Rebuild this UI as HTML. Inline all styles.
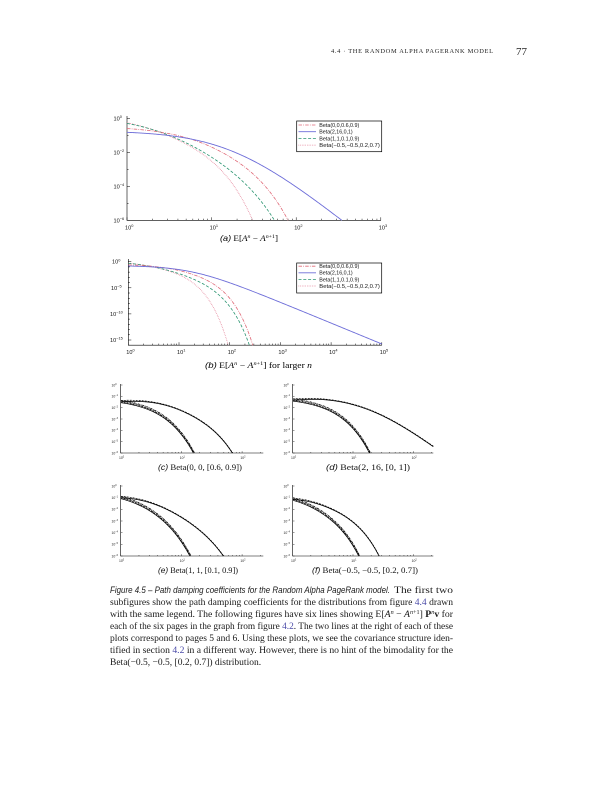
<!DOCTYPE html>
<html><head><meta charset="utf-8">
<style>
html,body{margin:0;padding:0;background:#fff;}
body{width:612px;height:792px;position:relative;overflow:hidden;}
svg{position:absolute;left:0;top:0;}
.t{font-family:"Liberation Sans",sans-serif;}
.s{font-family:"Liberation Serif",serif;}
</style></head><body>
<svg width="612" height="792" viewBox="0 0 612 792">
<!-- header -->
<text class="s" x="331" y="53" font-size="6.4" textLength="162" lengthAdjust="spacing" fill="#222">4.4 · THE RANDOM ALPHA PAGERANK MODEL</text>
<text class="s" x="516" y="55" font-size="11" fill="#222">77</text>

<!-- ===== Plot (a) ===== -->
<g id="ticksA" stroke="#000" stroke-width="0.5" fill="none"></g>
<path d="M127,116V220.3H381" stroke="#000" stroke-width="0.6" fill="none"/>
<g id="curvesA"></g>
<g class="t" font-size="5.6" fill="#111">
<text x="113.5" y="120.3">10<tspan dy="-2.4" font-size="3.9">0</tspan></text>
<text x="113.5" y="154.3">10<tspan dy="-2.4" font-size="3.9">−2</tspan></text>
<text x="113.5" y="188.3">10<tspan dy="-2.4" font-size="3.9">−4</tspan></text>
<text x="113.5" y="222.3">10<tspan dy="-2.4" font-size="3.9">−6</tspan></text>
<text x="125" y="229.5">10<tspan dy="-2.4" font-size="3.9">0</tspan></text>
<text x="209.6" y="229.5">10<tspan dy="-2.4" font-size="3.9">1</tspan></text>
<text x="294.2" y="229.5">10<tspan dy="-2.4" font-size="3.9">2</tspan></text>
<text x="378.8" y="229.5">10<tspan dy="-2.4" font-size="3.9">3</tspan></text>
</g>
<rect x="296.7" y="121" width="85" height="30.7" fill="#fff" stroke="#000" stroke-width="0.7"/>
<g fill="none" stroke-width="0.8">
<path d="M298.5,125H316" stroke="#e06a78" stroke-dasharray="3.5,1.2,0.8,1.2"/>
<path d="M298.5,131.7H316" stroke="#6c6cd8"/>
<path d="M298.5,138.4H316" stroke="#2a9470" stroke-dasharray="3,1.8"/>
<path d="M298.5,145.1H316" stroke="#e0708a" stroke-dasharray="0.7,1"/>
</g>
<g class="t" font-size="5.4" fill="#111">
<text x="319.3" y="126.9" textLength="40" lengthAdjust="spacingAndGlyphs">Beta(0,0,0.6,0.9)</text>
<text x="319.3" y="133.6" textLength="33.4" lengthAdjust="spacingAndGlyphs">Beta(2,16,0,1)</text>
<text x="319.3" y="140.3" textLength="40" lengthAdjust="spacingAndGlyphs">Beta(1,1,0.1,0.9)</text>
<text x="319.3" y="147" textLength="60.5" lengthAdjust="spacingAndGlyphs">Beta(−0.5,−0.5,0.2,0.7)</text>
</g>
<text x="220" y="241" textLength="58" lengthAdjust="spacingAndGlyphs" font-size="8.5"><tspan class="t" font-style="italic">(a)</tspan><tspan class="s"> E[<tspan font-style="italic">A</tspan><tspan dy="-3" font-size="5.5" font-style="italic">n</tspan><tspan dy="3"> − </tspan><tspan font-style="italic">A</tspan><tspan dy="-3" font-size="5.5" font-style="italic">n</tspan><tspan font-size="5.5">+1</tspan><tspan dy="3">]</tspan></tspan></text>

<!-- ===== Plot (b) ===== -->
<g id="ticksB" stroke="#000" stroke-width="0.5" fill="none"></g>
<path d="M128.3,259V345.2H381.8" stroke="#000" stroke-width="0.6" fill="none"/>
<g id="curvesB"></g>
<g class="t" font-size="5.6" fill="#111">
<text x="112" y="263.7">10<tspan dy="-2.4" font-size="3.9">0</tspan></text>
<text x="111" y="289.8">10<tspan dy="-2.4" font-size="3.9">−5</tspan></text>
<text x="110" y="315.9">10<tspan dy="-2.4" font-size="3.9">−10</tspan></text>
<text x="110" y="342">10<tspan dy="-2.4" font-size="3.9">−15</tspan></text>
<text x="126.3" y="354">10<tspan dy="-2.4" font-size="3.9">0</tspan></text>
<text x="177" y="354">10<tspan dy="-2.4" font-size="3.9">1</tspan></text>
<text x="227.7" y="354">10<tspan dy="-2.4" font-size="3.9">2</tspan></text>
<text x="278.4" y="354">10<tspan dy="-2.4" font-size="3.9">3</tspan></text>
<text x="329.1" y="354">10<tspan dy="-2.4" font-size="3.9">4</tspan></text>
<text x="379.8" y="354">10<tspan dy="-2.4" font-size="3.9">5</tspan></text>
</g>
<rect x="296.7" y="263" width="85" height="30" fill="#fff" stroke="#000" stroke-width="0.7"/>
<g fill="none" stroke-width="0.8">
<path d="M298.5,266.2H316" stroke="#e06a78" stroke-dasharray="3.5,1.2,0.8,1.2"/>
<path d="M298.5,272.8H316" stroke="#6c6cd8"/>
<path d="M298.5,279.4H316" stroke="#2a9470" stroke-dasharray="3,1.8"/>
<path d="M298.5,286H316" stroke="#e0708a" stroke-dasharray="0.7,1"/>
</g>
<g class="t" font-size="5.4" fill="#111">
<text x="319.3" y="268.1" textLength="40" lengthAdjust="spacingAndGlyphs">Beta(0,0,0.6,0.9)</text>
<text x="319.3" y="274.7" textLength="33.4" lengthAdjust="spacingAndGlyphs">Beta(2,16,0,1)</text>
<text x="319.3" y="281.3" textLength="40" lengthAdjust="spacingAndGlyphs">Beta(1,1,0.1,0.9)</text>
<text x="319.3" y="287.9" textLength="60.5" lengthAdjust="spacingAndGlyphs">Beta(−0.5,−0.5,0.2,0.7)</text>
</g>
<text x="205" y="368" textLength="107" lengthAdjust="spacingAndGlyphs" font-size="8.5"><tspan class="t" font-style="italic">(b)</tspan><tspan class="s"> E[<tspan font-style="italic">A</tspan><tspan dy="-3" font-size="5.5" font-style="italic">n</tspan><tspan dy="3"> − </tspan><tspan font-style="italic">A</tspan><tspan dy="-3" font-size="5.5" font-style="italic">n</tspan><tspan font-size="5.5">+1</tspan><tspan dy="3">] for larger </tspan><tspan font-style="italic">n</tspan></tspan></text>

<!-- ===== Small plots ===== -->
<g id="ticksS" stroke="#000" stroke-width="0.4" fill="none"></g>
<g stroke="#000" stroke-width="0.6" fill="none">
<path d="M120.7,384V453H263.3"/>
<path d="M292.7,384V453H433.3"/>
<path d="M120.7,485V556H263.3"/>
<path d="M292.7,485V556H433.3"/>
</g>
<g id="curvesS"></g>
<g class="t" font-size="3.4" fill="#222">
<text x="111.5" y="386.3">10<tspan dy="-1.4" font-size="2.4">0</tspan></text>
<text x="111.5" y="397.6">10<tspan dy="-1.4" font-size="2.4">−1</tspan></text>
<text x="111.5" y="409">10<tspan dy="-1.4" font-size="2.4">−2</tspan></text>
<text x="111.5" y="420.3">10<tspan dy="-1.4" font-size="2.4">−3</tspan></text>
<text x="111.5" y="431.6">10<tspan dy="-1.4" font-size="2.4">−4</tspan></text>
<text x="111.5" y="443">10<tspan dy="-1.4" font-size="2.4">−5</tspan></text>
<text x="111.5" y="454.3">10<tspan dy="-1.4" font-size="2.4">−6</tspan></text>
<text x="119" y="459">10<tspan dy="-1.4" font-size="2.4">0</tspan></text>
<text x="179.7" y="459">10<tspan dy="-1.4" font-size="2.4">1</tspan></text>
<text x="240.4" y="459">10<tspan dy="-1.4" font-size="2.4">2</tspan></text>
<text x="283.5" y="386.3">10<tspan dy="-1.4" font-size="2.4">0</tspan></text>
<text x="283.5" y="397.6">10<tspan dy="-1.4" font-size="2.4">−1</tspan></text>
<text x="283.5" y="409">10<tspan dy="-1.4" font-size="2.4">−2</tspan></text>
<text x="283.5" y="420.3">10<tspan dy="-1.4" font-size="2.4">−3</tspan></text>
<text x="283.5" y="431.6">10<tspan dy="-1.4" font-size="2.4">−4</tspan></text>
<text x="283.5" y="443">10<tspan dy="-1.4" font-size="2.4">−5</tspan></text>
<text x="283.5" y="454.3">10<tspan dy="-1.4" font-size="2.4">−6</tspan></text>
<text x="291" y="459">10<tspan dy="-1.4" font-size="2.4">0</tspan></text>
<text x="351.3" y="459">10<tspan dy="-1.4" font-size="2.4">1</tspan></text>
<text x="411.6" y="459">10<tspan dy="-1.4" font-size="2.4">2</tspan></text>
<text x="111.5" y="487.3">10<tspan dy="-1.4" font-size="2.4">0</tspan></text>
<text x="111.5" y="499">10<tspan dy="-1.4" font-size="2.4">−1</tspan></text>
<text x="111.5" y="510.6">10<tspan dy="-1.4" font-size="2.4">−2</tspan></text>
<text x="111.5" y="522.3">10<tspan dy="-1.4" font-size="2.4">−3</tspan></text>
<text x="111.5" y="534">10<tspan dy="-1.4" font-size="2.4">−4</tspan></text>
<text x="111.5" y="545.6">10<tspan dy="-1.4" font-size="2.4">−5</tspan></text>
<text x="111.5" y="557.3">10<tspan dy="-1.4" font-size="2.4">−6</tspan></text>
<text x="119" y="562">10<tspan dy="-1.4" font-size="2.4">0</tspan></text>
<text x="179.7" y="562">10<tspan dy="-1.4" font-size="2.4">1</tspan></text>
<text x="240.4" y="562">10<tspan dy="-1.4" font-size="2.4">2</tspan></text>
<text x="283.5" y="487.3">10<tspan dy="-1.4" font-size="2.4">0</tspan></text>
<text x="283.5" y="499">10<tspan dy="-1.4" font-size="2.4">−1</tspan></text>
<text x="283.5" y="510.6">10<tspan dy="-1.4" font-size="2.4">−2</tspan></text>
<text x="283.5" y="522.3">10<tspan dy="-1.4" font-size="2.4">−3</tspan></text>
<text x="283.5" y="534">10<tspan dy="-1.4" font-size="2.4">−4</tspan></text>
<text x="283.5" y="545.6">10<tspan dy="-1.4" font-size="2.4">−5</tspan></text>
<text x="283.5" y="557.3">10<tspan dy="-1.4" font-size="2.4">−6</tspan></text>
<text x="291" y="562">10<tspan dy="-1.4" font-size="2.4">0</tspan></text>
<text x="351.3" y="562">10<tspan dy="-1.4" font-size="2.4">1</tspan></text>
<text x="411.6" y="562">10<tspan dy="-1.4" font-size="2.4">2</tspan></text>
</g>

<g font-size="8.5" fill="#111">
<text x="158" y="470" textLength="84" lengthAdjust="spacingAndGlyphs"><tspan class="t" font-style="italic">(c)</tspan><tspan class="s"> Beta(0, 0, [0.6, 0.9])</tspan></text>
<text x="326" y="470" textLength="84" lengthAdjust="spacingAndGlyphs"><tspan class="t" font-style="italic">(d)</tspan><tspan class="s"> Beta(2, 16, [0, 1])</tspan></text>
<text x="158" y="573" textLength="80" lengthAdjust="spacingAndGlyphs"><tspan class="t" font-style="italic">(e)</tspan><tspan class="s"> Beta(1, 1, [0.1, 0.9])</tspan></text>
<text x="312" y="573" textLength="106" lengthAdjust="spacingAndGlyphs"><tspan class="t" font-style="italic">(f)</tspan><tspan class="s"> Beta(−0.5, −0.5, [0.2, 0.7])</tspan></text>
</g>

<!-- ===== Figure caption ===== -->
<g fill="#1a1a1a">
<text class="t" x="110" y="593" font-size="8.8" font-style="italic" textLength="280" lengthAdjust="spacingAndGlyphs">Figure 4.5 – Path damping coefficients for the Random Alpha PageRank model.</text>
<text class="s" x="394" y="593" font-size="9.5" textLength="59" lengthAdjust="spacingAndGlyphs">The first two</text>
<text class="s" x="110" y="605" font-size="9.5" textLength="343" lengthAdjust="spacingAndGlyphs">subfigures show the path damping coefficients for the distributions from figure <tspan fill="#4b4ba8">4.4</tspan> drawn</text>
<text class="s" x="110" y="617" font-size="9.5" textLength="343" lengthAdjust="spacingAndGlyphs">with the same legend. The following figures have six lines showing E[<tspan font-style="italic">A</tspan><tspan dy="-3" font-size="6" font-style="italic">n</tspan><tspan dy="3"> − </tspan><tspan font-style="italic">A</tspan><tspan dy="-3" font-size="6" font-style="italic">n</tspan><tspan font-size="6">+1</tspan><tspan dy="3">] </tspan><tspan font-weight="bold">P</tspan><tspan dy="-3" font-size="6" font-style="italic">n</tspan><tspan dy="3" font-weight="bold">v</tspan> for</text>
<text class="s" x="110" y="629" font-size="9.5" textLength="343" lengthAdjust="spacingAndGlyphs">each of the six pages in the graph from figure <tspan fill="#4b4ba8">4.2</tspan>. The two lines at the right of each of these</text>
<text class="s" x="110" y="641" font-size="9.5" textLength="343" lengthAdjust="spacingAndGlyphs">plots correspond to pages 5 and 6. Using these plots, we see the covariance structure iden-</text>
<text class="s" x="110" y="653" font-size="9.5" textLength="343" lengthAdjust="spacingAndGlyphs">tified in section <tspan fill="#4b4ba8">4.2</tspan> in a different way. However, there is no hint of the bimodality for the</text>
<text class="s" x="110" y="665" font-size="9.5">Beta(−0.5, −0.5, [0.2, 0.7]) distribution.</text>
</g>
</svg>

<script>
(function(){
var NS="http://www.w3.org/2000/svg";
function L(x){return Math.log(x)/Math.LN10;}
function Fnum(a,b,l,r){
  var N=600, xs=[], ws=[], den=0;
  for(var i=0;i<N;i++){
    var t=(i+0.5)*Math.PI/N, c=Math.cos(t);
    var x=l+(r-l)*(1-c)/2;
    var w=Math.pow(1-c,b)*Math.pow(1+c,a)*Math.sin(t);
    xs.push(x); ws.push(w); den+=w;
  }
  return function(n){var s=0; for(var i=0;i<N;i++){s+=ws[i]*Math.pow(xs[i],n)*(1-xs[i]);} return s/den;};
}
var D1=Fnum(0,0,0.6,0.9), D3=Fnum(1,1,0.1,0.9), D4=Fnum(-0.5,-0.5,0.2,0.7);
function D2(n){return 17442/((n+17)*(n+18)*(n+19)*(n+20));}

function mk(tag,attrs,parent){var e=document.createElementNS(NS,tag);for(var k in attrs)e.setAttribute(k,attrs[k]);parent.appendChild(e);return e;}

function draw(g, fk, P, style){
  var M=260, d="", prev=null, lmax=L(P.kmax);
  for(var i=0;i<=M;i++){
    var lk=lmax*i/M, k=Math.pow(10,lk), v=fk(k), lv=v>0?L(v):-99;
    if(lv<P.ymin){
      if(prev){var t=(prev[1]-P.ymin)/(prev[1]-lv); var lx=prev[0]+t*(lk-prev[0]);
        d+="L"+(P.X0+P.DX*lx).toFixed(2)+","+(P.Y0-P.DY*P.ymin).toFixed(2);}
      break;
    }
    d+=(i?"L":"M")+(P.X0+P.DX*lk).toFixed(2)+","+(P.Y0-P.DY*lv).toFixed(2);
    prev=[lk,lv];
  }
  var a={d:d,fill:"none"}; for(var s in style)a[s]=style[s];
  mk("path",a,g);
}
function ticks(g,P,nd,majY,lenMaj,lenMin){
  var by=P.Y0-P.DY*P.ymin, d="";
  for(var dd=0;dd<=nd;dd++){
    var x=P.X0+P.DX*dd;
    if(x<=P.xmax+0.5) d+="M"+x.toFixed(2)+","+by+"v"+(-lenMaj);
    for(var m=2;m<=9;m++){var xm=P.X0+P.DX*(dd+L(m)); if(xm<=P.xmax) d+="M"+xm.toFixed(2)+","+by+"v"+(-lenMin);}
  }
  for(var e=0;e>=P.ymin;e--){
    var y=P.Y0-P.DY*e; var len=(majY.indexOf(e)>=0)?lenMaj:lenMin;
    d+="M"+P.X0+","+y.toFixed(2)+"h"+len;
  }
  mk("path",{d:d},g);
}

var PA={X0:127,DX:84.6,Y0:118.3,DY:17,ymin:-6,kmax:1000,xmax:381};
var PB={X0:128.3,DX:50.7,Y0:261.7,DY:5.22,ymin:-16,kmax:1e5,xmax:381.8};
ticks(document.getElementById("ticksA"),PA,3,[0,-2,-4,-6],3,1.6);
ticks(document.getElementById("ticksB"),PB,5,[0,-5,-10,-15],3,1.6);

var cols={r:"#e06a78",b:"#6c6cd8",g:"#2a9470",p:"#e0708a"};
[["curvesA",PA],["curvesB",PB]].forEach(function(q){
  var g=document.getElementById(q[0]), P=q[1];
  draw(g,function(k){return D4(k-1);},P,{stroke:cols.p,"stroke-width":0.8,"stroke-dasharray":"0.7,1"});
  draw(g,function(k){return D3(k-1);},P,{stroke:cols.g,"stroke-width":0.8,"stroke-dasharray":"3,1.8"});
  draw(g,function(k){return D1(k-1);},P,{stroke:cols.r,"stroke-width":0.8,"stroke-dasharray":"3.5,1.2,0.8,1.2"});
  draw(g,function(k){return D2(k-1);},P,{stroke:cols.b,"stroke-width":0.9});
});

var PC={X0:120.7,DX:60.7,Y0:385,DY:11.333,ymin:-6,kmax:Math.pow(10,(263.3-120.7)/60.7),xmax:263.3};
var PD={X0:292.7,DX:60.3,Y0:385,DY:11.333,ymin:-6,kmax:Math.pow(10,(433.3-292.7)/60.3),xmax:433.3};
var PE={X0:120.7,DX:60.7,Y0:486,DY:11.667,ymin:-6,kmax:Math.pow(10,(263.3-120.7)/60.7),xmax:263.3};
var PF={X0:292.7,DX:60.3,Y0:486,DY:11.667,ymin:-6,kmax:Math.pow(10,(433.3-292.7)/60.3),xmax:433.3};
var gt=document.getElementById("ticksS");
[PC,PD,PE,PF].forEach(function(P){ticks(gt,P,2,[0,-1,-2,-3,-4,-5,-6],1.8,1);});

var gs=document.getElementById("curvesS");
var SP=[{P:PC,F:D1,kout:69,kin:16},{P:PD,F:D2,cout:0.6,kin:19},{P:PE,F:D3,kout:49,kin:14},{P:PF,F:D4,kout:27,kin:12.6}];
var inStyles=[{"stroke-dasharray":"none"},{"stroke-dasharray":"2,1"},{"stroke-dasharray":"0.6,0.8"},{"stroke-dasharray":"2.2,0.8,0.6,0.8"}];
SP.forEach(function(s){
  var F=s.F, c=s.cout||(1e-6/F(s.kout-1));
  var lam=Math.pow(1e-6/(c*0.5*F(s.kin-1)),1/(s.kin-1));
  [0.42,0.5,0.58,0.68].forEach(function(m,i){
    var st={stroke:"#000","stroke-width":0.7}; for(var k in inStyles[i])st[k]=inStyles[i][k];
    draw(gs,function(k){return c*m*F(k-1)*Math.pow(lam,k-1);},s.P,st);
  });
  draw(gs,function(k){return c*F(k-1)*(1-0.5*Math.pow(0.5,k-1));},s.P,{stroke:"#000","stroke-width":0.8});
  draw(gs,function(k){return 1.1*c*F(k-1)*(1-0.4*Math.pow(0.45,k-1));},s.P,{stroke:"#000","stroke-width":0.7,"stroke-dasharray":"2,1"});
});
})();
</script>
</body></html>
